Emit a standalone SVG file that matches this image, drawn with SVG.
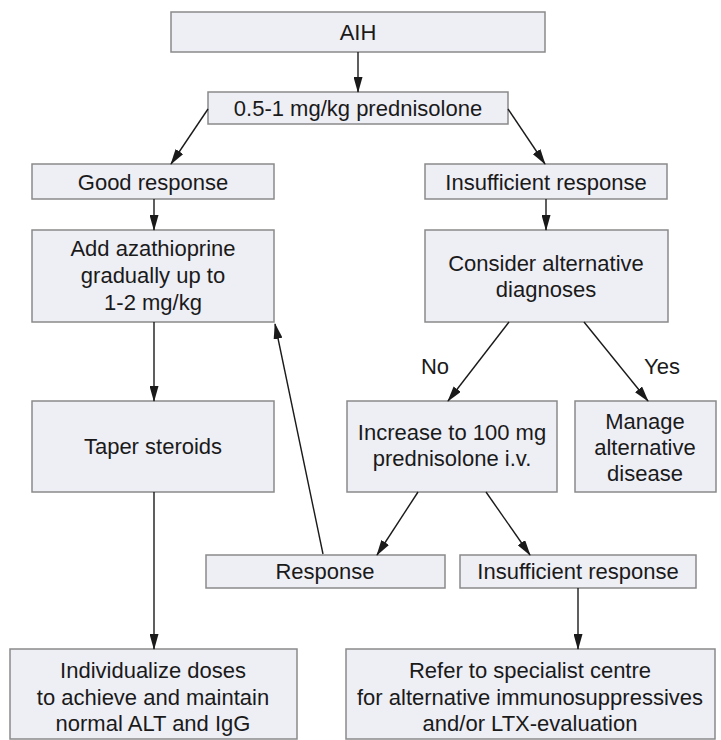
<svg xmlns="http://www.w3.org/2000/svg" width="721" height="740" viewBox="0 0 721 740">
<style>
.box{fill:#eeeef5;stroke:#8a8a8a;stroke-width:1.5}
text{font-family:"Liberation Sans",Arial,sans-serif;font-size:22px;fill:#1a1a1a;text-anchor:middle}
.c line{stroke:#1a1a1a;stroke-width:1.4;marker-end:url(#ah)}
</style>
<defs>
<marker id="ah" markerUnits="userSpaceOnUse" markerWidth="16" markerHeight="9" refX="15" refY="4.5" orient="auto">
<path d="M0,0 L16,4.5 L0,9 z" fill="#1a1a1a"/>
</marker>
</defs>
<rect width="721" height="740" fill="#fff"/>
<g id="aih"><rect class="box" x="171" y="12" width="374" height="40"/><text x="358" y="40">AIH</text></g>
<g id="pred"><rect class="box" x="208" y="92" width="300" height="32"/><text x="358" y="116">0.5-1 mg/kg prednisolone</text></g>
<g id="good"><rect class="box" x="32" y="164" width="242" height="35"/><text x="153" y="190">Good response</text></g>
<g id="insuf1"><rect class="box" x="425" y="164" width="242" height="35"/><text x="546" y="190">Insufficient response</text></g>
<g id="aza"><rect class="box" x="32" y="230" width="242" height="92"/><text x="153" y="256">Add azathioprine</text><text x="153" y="283">gradually up to</text><text x="153" y="310">1-2 mg/kg</text></g>
<g id="consider"><rect class="box" x="425" y="230" width="243" height="92"/><text x="546" y="271">Consider alternative</text><text x="546" y="297">diagnoses</text></g>
<g id="taper"><rect class="box" x="32" y="401" width="242" height="91"/><text x="153" y="454">Taper steroids</text></g>
<g id="increase"><rect class="box" x="347" y="401" width="210" height="91"/><text x="452" y="440">Increase to 100 mg</text><text x="452" y="466">prednisolone i.v.</text></g>
<g id="manage"><rect class="box" x="575" y="401" width="141" height="91"/><text x="645" y="429">Manage</text><text x="645" y="455">alternative</text><text x="645" y="481">disease</text></g>
<g id="response"><rect class="box" x="206" y="555" width="239" height="33"/><text x="325" y="579">Response</text></g>
<g id="insuf2"><rect class="box" x="460" y="555" width="236" height="33"/><text x="578" y="579">Insufficient response</text></g>
<g id="indiv"><rect class="box" x="10" y="649" width="287" height="90"/><text x="153" y="678">Individualize doses</text><text x="153" y="705">to achieve and maintain</text><text x="153" y="731">normal ALT and IgG</text></g>
<g id="refer"><rect class="box" x="346" y="649" width="369" height="90"/><text x="530" y="678">Refer to specialist centre</text><text x="530" y="705">for alternative immunosuppressives</text><text x="530" y="731">and/or LTX-evaluation</text></g>
<g id="labels"><text x="435" y="374">No</text><text x="662" y="374">Yes</text></g>
<g class="c" id="connectors">
<line x1="358" y1="52" x2="358" y2="92"/>
<line x1="208" y1="109" x2="171" y2="164"/>
<line x1="508" y1="109" x2="545" y2="164"/>
<line x1="154" y1="199" x2="154" y2="230"/>
<line x1="546" y1="199" x2="546" y2="230"/>
<line x1="154" y1="322" x2="154" y2="401"/>
<line x1="509" y1="322" x2="448" y2="401"/>
<line x1="584" y1="322" x2="648" y2="401"/>
<line x1="323" y1="554" x2="275" y2="324"/>
<line x1="418" y1="492" x2="377" y2="555"/>
<line x1="486" y1="492" x2="530" y2="555"/>
<line x1="154" y1="492" x2="154" y2="649"/>
<line x1="578" y1="588" x2="578" y2="649"/>
</g>
</svg>
